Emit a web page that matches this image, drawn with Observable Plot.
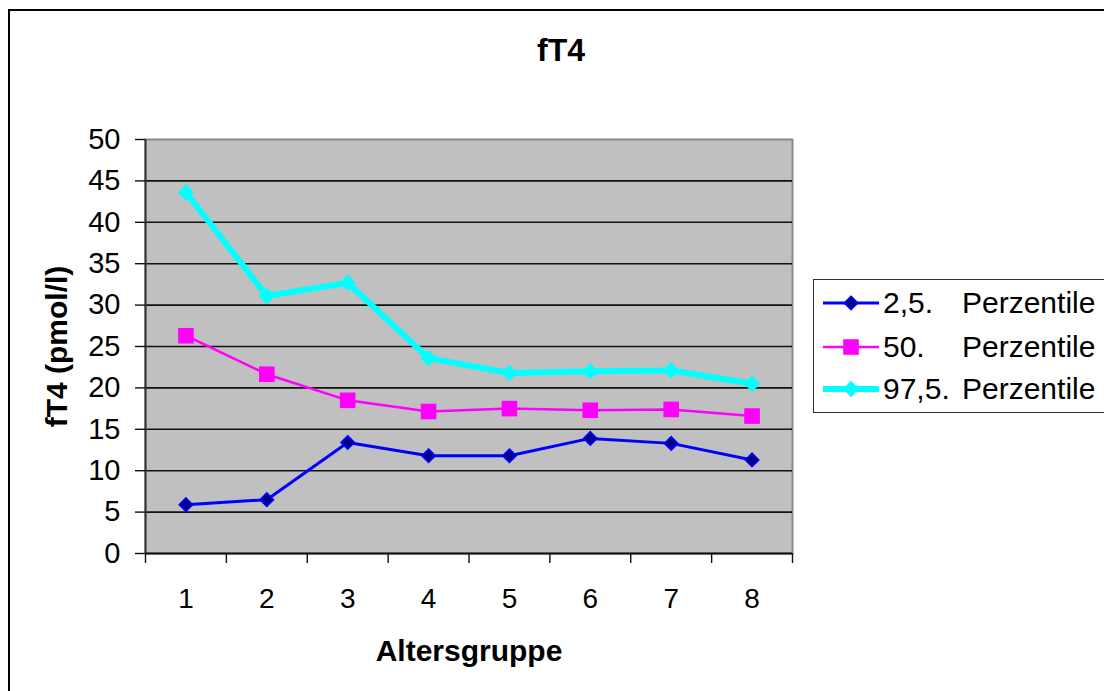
<!DOCTYPE html>
<html>
<head>
<meta charset="utf-8">
<script src="https://cdn.jsdelivr.net/npm/d3@7"></script>
<script src="https://cdn.jsdelivr.net/npm/@observablehq/plot@0.6"></script>
<style>
  html, body { margin: 0; padding: 0; background: #fff; overflow: hidden; }
  body { font-family: "Liberation Sans", Arial, sans-serif; }
  #chart { position: relative; width: 1104px; height: 691px; overflow: hidden; }
  #border { position: absolute; left: 8px; top: 9px; width: 1300px; height: 900px; border: 2px solid #000; box-sizing: border-box; }
  #title { position: absolute; left: 561px; top: 31px; transform: translateX(-50%); font-weight: bold; font-size: 32px; line-height: 38px; }
  #plot { position: absolute; left: 0; top: 100px; }
  #legend { position: absolute; left: 813px; top: 279px; width: 400px; height: 134px; border: 1.5px solid #333; box-sizing: border-box; background: #fff; }
  .row { position: absolute; left: 0; height: 40px; font-size: 30px; line-height: 40px; white-space: pre; }
  .row svg { position: absolute; left: 7px; top: 10px; }
  .row .num { position: absolute; left: 69px; }
  .row .word { position: absolute; left: 148px; }
</style>
</head>
<body>
<div id="chart">
  <div id="border"></div>
  <div id="title">fT4</div>
  <div id="plot"></div>
  <div id="legend"></div>
</div>
<script>
// Age groups on the x axis
const groups = [1, 2, 3, 4, 5, 6, 7, 8];
// fT4 reference percentiles (pmol/l) per age group
const p025 = [5.9, 6.5, 13.4, 11.8, 11.8, 13.9, 13.3, 11.3];
const p50 = [26.3, 21.65, 18.5, 17.15, 17.5, 17.3, 17.4, 16.6];
const p975 = [43.6, 31.1, 32.7, 23.6, 21.8, 22.0, 22.1, 20.5];
// Series names and y axis ticks
const seriesNames = ["2,5.", "50.", "97,5."];
const seriesWord = "Perzentile";
const yTicks = [0, 5, 10, 15, 20, 25, 30, 35, 40, 45, 50];

const styles = [
  {line: "#0000ff", lineWidth: 3, symbol: "diamond2", r: 5.9, fill: "#000080", stroke: "#0000ff", strokeWidth: 1.8},
  {line: "#ff00ff", lineWidth: 2.5, symbol: "square", r: 8.8, fill: "#ff00ff", stroke: "none", strokeWidth: 0},
  {line: "#00ffff", lineWidth: 6, symbol: "diamond2", r: 7.4, fill: "#00ffff", stroke: "none", strokeWidth: 0}
];

const seriesValues = [p025, p50, p975];
const rows = seriesValues.map(vals => groups.map((g, i) => ({group: g, value: vals[i]})));
const bounds = groups.map(g => g - 0.5).concat([groups[groups.length - 1] + 0.5]);

const font = "Liberation Sans, Arial, sans-serif";

const marks = [
  Plot.frame({fill: "#c0c0c0", stroke: "#8a8a8a", strokeWidth: 2}),
  Plot.gridY(yTicks.slice(1, -1), {stroke: "#111", strokeOpacity: 1, strokeWidth: 1.6}),
  Plot.ruleX([bounds[0]], {stroke: "#333", strokeWidth: 2}),
  Plot.ruleY([0], {stroke: "#111", strokeWidth: 2}),
  Plot.axisY(yTicks, {tickSize: 10, tickPadding: 15, fontSize: 29, label: null, stroke: "#111", strokeWidth: 1.4}),
  Plot.axisX(bounds, {tickSize: 10, tickFormat: () => "", label: null, stroke: "#111", strokeWidth: 1.4}),
  Plot.axisX(groups, {tickSize: 0, tickPadding: 35, fontSize: 28, label: null, tickFormat: d => String(d)}),
  Plot.text(["Altersgruppe"], {frameAnchor: "bottom", dy: 98, fontSize: 30, fontWeight: "bold", lineAnchor: "middle", textAnchor: "middle"}),
  Plot.text(["fT4 (pmol/l)"], {frameAnchor: "left", dx: -88, rotate: -90, fontSize: 30, fontWeight: "bold", lineAnchor: "middle", textAnchor: "middle"})
];

rows.forEach((data, k) => {
  const s = styles[k];
  marks.push(Plot.line(data, {x: "group", y: "value", stroke: s.line, strokeWidth: s.lineWidth, strokeLinejoin: "miter"}));
});
rows.forEach((data, k) => {
  const s = styles[k];
  marks.push(Plot.dot(data, {x: "group", y: "value", symbol: s.symbol, r: s.r, fill: s.fill, stroke: s.stroke, strokeWidth: s.strokeWidth}));
});

const chart = Plot.plot({
  width: 1104,
  height: 591,
  marginLeft: 145,
  marginRight: 312,
  marginTop: 39,
  marginBottom: 138,
  style: {fontFamily: font, color: "#000", background: "transparent", overflow: "visible"},
  x: {type: "linear", domain: [bounds[0], bounds[bounds.length - 1]], axis: null},
  y: {domain: [yTicks[0], yTicks[yTicks.length - 1]], axis: null},
  marks
});
document.getElementById("plot").appendChild(chart);

// Legend: one row per series, a short line with its marker, then the name
const legend = d3.select("#legend");
const rowTops = [3, 47, 89];
seriesNames.forEach((name, k) => {
  const s = styles[k];
  const row = legend.append("div").attr("class", "row").style("top", rowTops[k] + "px");
  const svg = row.append("svg").attr("width", 60).attr("height", 20);
  svg.append("line").attr("x1", 2).attr("x2", 58).attr("y1", 10).attr("y2", 10)
    .attr("stroke", s.line).attr("stroke-width", s.lineWidth);
  const sym = s.symbol === "square" ? d3.symbolSquare : d3.symbolDiamond2;
  svg.append("path").attr("transform", "translate(30,10)")
    .attr("d", d3.symbol(sym, Math.PI * s.r * s.r)())
    .attr("fill", s.fill).attr("stroke", s.stroke).attr("stroke-width", s.strokeWidth);
  row.append("span").attr("class", "num").text(name + " ");
  row.append("span").attr("class", "word").text(seriesWord);
});
</script>
</body>
</html>
